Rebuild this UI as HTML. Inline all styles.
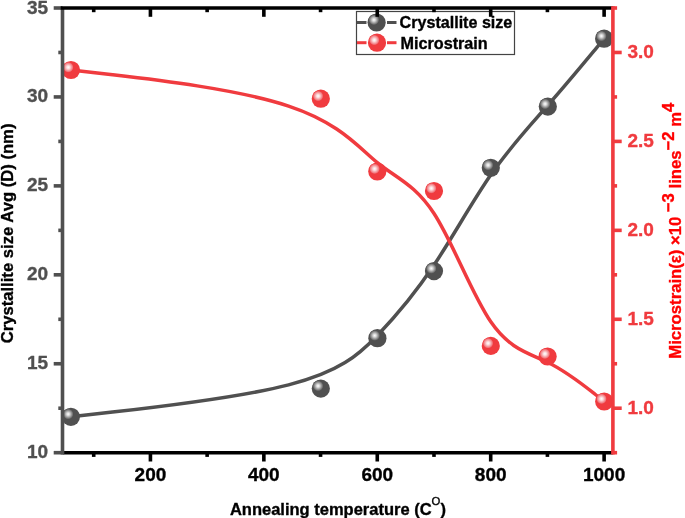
<!DOCTYPE html><html><head><meta charset="utf-8"><style>html,body{margin:0;padding:0;background:#fff;overflow:hidden;}svg{display:block;will-change:transform;}text{font-family:"Liberation Sans",sans-serif;font-weight:bold;stroke-width:0.35px;stroke-linejoin:round;}</style></head><body>
<svg width="685" height="518" viewBox="0 0 685 518">
<defs>
<radialGradient id="gB" cx="0.5" cy="0.5" r="0.5"><stop offset="0" stop-color="#ffffff"/><stop offset="0.3" stop-color="#d8d8d8"/><stop offset="0.8" stop-color="#7a7a7a"/><stop offset="1" stop-color="#505050"/></radialGradient>
<radialGradient id="gR" cx="0.5" cy="0.5" r="0.5"><stop offset="0" stop-color="#ffffff"/><stop offset="0.3" stop-color="#fbdcdd"/><stop offset="0.8" stop-color="#f27a80"/><stop offset="1" stop-color="#f03b3f"/></radialGradient>
</defs>
<path d="M70.90,416.80 C70.90,416.80 70.90,416.80 112.55,412.10 C154.20,407.40 237.50,398.00 288.58,384.90 C339.67,371.80 358.53,355.00 377.40,335.42 C396.27,315.83 415.13,293.47 434.03,265.07 C452.93,236.67 471.87,202.23 490.83,174.82 C509.80,147.40 528.80,127.00 547.68,105.48 C566.57,83.97 585.33,61.33 594.72,50.02 C604.10,38.70 604.10,38.70 604.10,38.70" fill="none" stroke="#505050" stroke-width="3.5"/>
<path d="M71.00,70.00 C71.00,70.00 71.00,70.00 112.63,74.78 C154.27,79.57 237.53,89.13 288.58,106.05 C339.63,122.97 358.47,147.23 377.33,162.62 C396.20,178.00 415.10,184.50 434.02,213.57 C452.93,242.63 471.87,294.27 490.80,321.85 C509.73,349.43 528.67,352.97 547.57,362.23 C566.47,371.50 585.33,386.50 594.77,394.00 C604.20,401.50 604.20,401.50 604.20,401.50" fill="none" stroke="#f03b3f" stroke-width="3.5"/>
<circle cx="70.9" cy="416.8" r="9.1" fill="#505050"/><circle cx="68.2" cy="414.1" r="5.3" fill="url(#gB)"/>
<circle cx="320.8" cy="388.6" r="9.1" fill="#505050"/><circle cx="318.1" cy="385.9" r="5.3" fill="url(#gB)"/>
<circle cx="377.4" cy="338.2" r="9.1" fill="#505050"/><circle cx="374.7" cy="335.5" r="5.3" fill="url(#gB)"/>
<circle cx="434.0" cy="271.1" r="9.1" fill="#505050"/><circle cx="431.3" cy="268.4" r="5.3" fill="url(#gB)"/>
<circle cx="490.8" cy="167.8" r="9.1" fill="#505050"/><circle cx="488.1" cy="165.1" r="5.3" fill="url(#gB)"/>
<circle cx="547.8" cy="106.6" r="9.1" fill="#505050"/><circle cx="545.1" cy="103.9" r="5.3" fill="url(#gB)"/>
<circle cx="604.1" cy="38.7" r="9.1" fill="#505050"/><circle cx="601.4" cy="36.0" r="5.3" fill="url(#gB)"/>
<circle cx="71.0" cy="70.0" r="9.1" fill="#f03b3f"/><circle cx="68.3" cy="67.3" r="5.3" fill="url(#gR)"/>
<circle cx="320.8" cy="98.7" r="9.1" fill="#f03b3f"/><circle cx="318.1" cy="96.0" r="5.3" fill="url(#gR)"/>
<circle cx="377.3" cy="171.5" r="9.1" fill="#f03b3f"/><circle cx="374.6" cy="168.8" r="5.3" fill="url(#gR)"/>
<circle cx="434.0" cy="191.0" r="9.1" fill="#f03b3f"/><circle cx="431.3" cy="188.3" r="5.3" fill="url(#gR)"/>
<circle cx="490.8" cy="345.9" r="9.1" fill="#f03b3f"/><circle cx="488.1" cy="343.2" r="5.3" fill="url(#gR)"/>
<circle cx="547.6" cy="356.5" r="9.1" fill="#f03b3f"/><circle cx="544.9" cy="353.8" r="5.3" fill="url(#gR)"/>
<circle cx="604.2" cy="401.5" r="9.1" fill="#f03b3f"/><circle cx="601.5" cy="398.8" r="5.3" fill="url(#gR)"/>
<rect x="356.5" y="11.5" width="158" height="43" fill="#fff" fill-opacity="0" stroke="#444" stroke-width="1.2"/>
<line x1="357" y1="22.5" x2="366.5" y2="22.5" stroke="#505050" stroke-width="3"/><line x1="387" y1="22.5" x2="396.5" y2="22.5" stroke="#505050" stroke-width="3"/>
<circle cx="376.6" cy="22.5" r="9.1" fill="#505050"/><circle cx="373.9" cy="19.8" r="5.3" fill="url(#gB)"/>
<line x1="357" y1="42.7" x2="366.5" y2="42.7" stroke="#f03b3f" stroke-width="3"/><line x1="387" y1="42.7" x2="396.5" y2="42.7" stroke="#f03b3f" stroke-width="3"/>
<circle cx="377.0" cy="42.7" r="9.1" fill="#f03b3f"/><circle cx="374.3" cy="40.0" r="5.3" fill="url(#gR)"/>
<text x="399.6" y="28.1" font-size="16.1" fill="#000" stroke="#000">Crystallite size</text>
<text x="400.5" y="48.9" font-size="16.2" fill="#000" stroke="#000">Microstrain</text>
<line x1="93.71" y1="452.7" x2="93.71" y2="456.9" stroke="#000" stroke-width="3.6"/>
<line x1="93.71" y1="8.0" x2="93.71" y2="12.2" stroke="#000" stroke-width="3.6"/>
<line x1="150.43" y1="452.7" x2="150.43" y2="461.5" stroke="#000" stroke-width="3.6"/>
<line x1="150.43" y1="8.0" x2="150.43" y2="16.8" stroke="#000" stroke-width="3.6"/>
<text x="150.43" y="481.3" font-size="19" text-anchor="middle" fill="#000" stroke="#000">200</text>
<line x1="207.14" y1="452.7" x2="207.14" y2="456.9" stroke="#000" stroke-width="3.6"/>
<line x1="207.14" y1="8.0" x2="207.14" y2="12.2" stroke="#000" stroke-width="3.6"/>
<line x1="263.85" y1="452.7" x2="263.85" y2="461.5" stroke="#000" stroke-width="3.6"/>
<line x1="263.85" y1="8.0" x2="263.85" y2="16.8" stroke="#000" stroke-width="3.6"/>
<text x="263.85" y="481.3" font-size="19" text-anchor="middle" fill="#000" stroke="#000">400</text>
<line x1="320.56" y1="452.7" x2="320.56" y2="456.9" stroke="#000" stroke-width="3.6"/>
<line x1="320.56" y1="8.0" x2="320.56" y2="12.2" stroke="#000" stroke-width="3.6"/>
<line x1="377.27" y1="452.7" x2="377.27" y2="461.5" stroke="#000" stroke-width="3.6"/>
<line x1="377.27" y1="8.0" x2="377.27" y2="16.8" stroke="#000" stroke-width="3.6"/>
<text x="377.27" y="481.3" font-size="19" text-anchor="middle" fill="#000" stroke="#000">600</text>
<line x1="433.99" y1="452.7" x2="433.99" y2="456.9" stroke="#000" stroke-width="3.6"/>
<line x1="433.99" y1="8.0" x2="433.99" y2="12.2" stroke="#000" stroke-width="3.6"/>
<line x1="490.70" y1="452.7" x2="490.70" y2="461.5" stroke="#000" stroke-width="3.6"/>
<line x1="490.70" y1="8.0" x2="490.70" y2="16.8" stroke="#000" stroke-width="3.6"/>
<text x="490.70" y="481.3" font-size="19" text-anchor="middle" fill="#000" stroke="#000">800</text>
<line x1="547.41" y1="452.7" x2="547.41" y2="456.9" stroke="#000" stroke-width="3.6"/>
<line x1="547.41" y1="8.0" x2="547.41" y2="12.2" stroke="#000" stroke-width="3.6"/>
<line x1="604.12" y1="452.7" x2="604.12" y2="461.5" stroke="#000" stroke-width="3.6"/>
<line x1="604.12" y1="8.0" x2="604.12" y2="16.8" stroke="#000" stroke-width="3.6"/>
<text x="604.12" y="481.3" font-size="19" text-anchor="middle" fill="#000" stroke="#000">1000</text>
<line x1="62.5" y1="452.7" x2="612.9" y2="452.7" stroke="#000" stroke-width="3.6"/>
<line x1="62.5" y1="8.0" x2="62.5" y2="454.5" stroke="#505050" stroke-width="3.6"/>
<line x1="62.5" y1="452.70" x2="53.7" y2="452.70" stroke="#505050" stroke-width="3.6"/>
<text x="48.1" y="458.20" font-size="19" text-anchor="end" fill="#505050" stroke="#505050">10</text>
<line x1="62.5" y1="408.23" x2="58.3" y2="408.23" stroke="#505050" stroke-width="3.6"/>
<line x1="62.5" y1="363.76" x2="53.7" y2="363.76" stroke="#505050" stroke-width="3.6"/>
<text x="48.1" y="369.26" font-size="19" text-anchor="end" fill="#505050" stroke="#505050">15</text>
<line x1="62.5" y1="319.29" x2="58.3" y2="319.29" stroke="#505050" stroke-width="3.6"/>
<line x1="62.5" y1="274.82" x2="53.7" y2="274.82" stroke="#505050" stroke-width="3.6"/>
<text x="48.1" y="280.32" font-size="19" text-anchor="end" fill="#505050" stroke="#505050">20</text>
<line x1="62.5" y1="230.35" x2="58.3" y2="230.35" stroke="#505050" stroke-width="3.6"/>
<line x1="62.5" y1="185.88" x2="53.7" y2="185.88" stroke="#505050" stroke-width="3.6"/>
<text x="48.1" y="191.38" font-size="19" text-anchor="end" fill="#505050" stroke="#505050">25</text>
<line x1="62.5" y1="141.41" x2="58.3" y2="141.41" stroke="#505050" stroke-width="3.6"/>
<line x1="62.5" y1="96.94" x2="53.7" y2="96.94" stroke="#505050" stroke-width="3.6"/>
<text x="48.1" y="102.44" font-size="19" text-anchor="end" fill="#505050" stroke="#505050">30</text>
<line x1="62.5" y1="52.47" x2="58.3" y2="52.47" stroke="#505050" stroke-width="3.6"/>
<line x1="62.5" y1="8.00" x2="53.7" y2="8.00" stroke="#505050" stroke-width="3.6"/>
<text x="48.1" y="13.50" font-size="19" text-anchor="end" fill="#505050" stroke="#505050">35</text>
<line x1="60.7" y1="8.0" x2="612.9" y2="8.0" stroke="#000" stroke-width="3.6"/>
<line x1="612.9" y1="6.2" x2="612.9" y2="454.5" stroke="#f03b3f" stroke-width="3.6"/>
<line x1="612.9" y1="452.70" x2="617.1" y2="452.70" stroke="#f03b3f" stroke-width="3.6"/>
<line x1="612.9" y1="408.23" x2="621.7" y2="408.23" stroke="#f03b3f" stroke-width="3.6"/>
<text x="627.5" y="413.83" font-size="19" fill="#f03b3f" stroke="#f03b3f">1.0</text>
<line x1="612.9" y1="363.76" x2="617.1" y2="363.76" stroke="#f03b3f" stroke-width="3.6"/>
<line x1="612.9" y1="319.29" x2="621.7" y2="319.29" stroke="#f03b3f" stroke-width="3.6"/>
<text x="627.5" y="324.89" font-size="19" fill="#f03b3f" stroke="#f03b3f">1.5</text>
<line x1="612.9" y1="274.82" x2="617.1" y2="274.82" stroke="#f03b3f" stroke-width="3.6"/>
<line x1="612.9" y1="230.35" x2="621.7" y2="230.35" stroke="#f03b3f" stroke-width="3.6"/>
<text x="627.5" y="235.95" font-size="19" fill="#f03b3f" stroke="#f03b3f">2.0</text>
<line x1="612.9" y1="185.88" x2="617.1" y2="185.88" stroke="#f03b3f" stroke-width="3.6"/>
<line x1="612.9" y1="141.41" x2="621.7" y2="141.41" stroke="#f03b3f" stroke-width="3.6"/>
<text x="627.5" y="147.01" font-size="19" fill="#f03b3f" stroke="#f03b3f">2.5</text>
<line x1="612.9" y1="96.94" x2="617.1" y2="96.94" stroke="#f03b3f" stroke-width="3.6"/>
<line x1="612.9" y1="52.47" x2="621.7" y2="52.47" stroke="#f03b3f" stroke-width="3.6"/>
<text x="627.5" y="58.07" font-size="19" fill="#f03b3f" stroke="#f03b3f">3.0</text>
<line x1="612.9" y1="8.00" x2="617.1" y2="8.00" stroke="#f03b3f" stroke-width="3.6"/>
<text x="229.9" y="514.8" font-size="16.5" fill="#000" stroke="#000">Annealing temperature (C<tspan font-size="11.3" font-weight="normal" dy="-9.5">O</tspan><tspan dy="9.5">)</tspan></text>
<text transform="translate(12.5,343.3) rotate(-90)" x="0" y="0" font-size="16.65" fill="#000" stroke="#000">Crystallite size Avg (D) (nm)</text>
<text transform="translate(681.3,358.7) rotate(-90)" x="0" y="0" font-size="16.7" fill="#ff0000" stroke="#ff0000">Microstrain(ε) ×10 <tspan dy="-7.8">−3</tspan><tspan dy="7.8"> lines</tspan><tspan dy="-7.8">−2</tspan><tspan dy="7.8"> m</tspan><tspan dy="-7.8">4</tspan></text>
</svg></body></html>
